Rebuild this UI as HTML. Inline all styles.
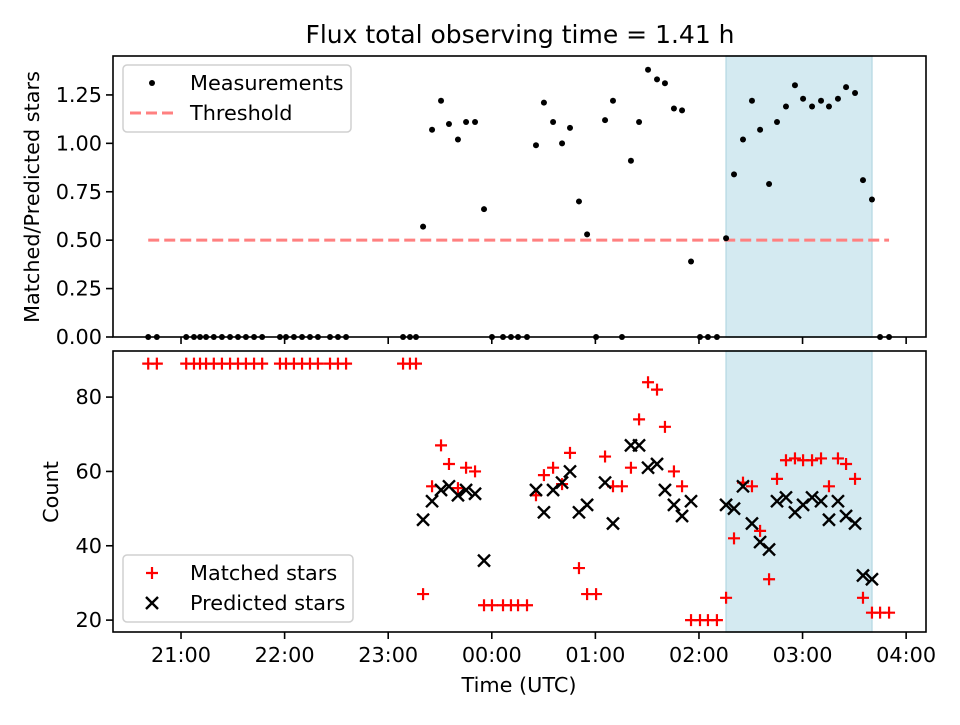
<!DOCTYPE html>
<html><head><meta charset="utf-8"><style>
body{margin:0;background:#fff}
svg text{font-family:"DejaVu Sans","Liberation Sans",sans-serif;fill:#000}
</style></head><body>
<svg id="chart" width="960" height="720" xmlns="http://www.w3.org/2000/svg"></svg>
<script>
// minutes since 20:00 UTC
const times=[41,46,63,67.5,71,74.5,79,83.7,88.4,93,97.6,102.3,107,117.3,120.8,125.4,130.1,134.7,139.3,146.3,150.9,155.6,188.6,192.6,196.1,
200.2,205.4,210.6,215.2,220.4,225.1,230.3,235.5,240.1,246.5,251.1,255.2,260.4,265.6,270.2,275.5,280.7,285.3,290.5,295.2,300.4,305.6,310.2,315.4,320.6,325.3,330.5,335.7,340.3,345.5,350.2,355.4,360.6,365.2,370.4,
375.7,380.3,385.5,390.7,395.4,400.6,405.2,410.4,415.6,420.3,425.5,430.7,435.3,440.5,445.2,450.4,455,460.2,464.9,470.1];
const ratio=[0,0,0,0,0,0,0,0,0,0,0,0,0,0,0,0,0,0,0,0,0,0,0,0,0,
0.57,1.07,1.22,1.10,1.02,1.11,1.11,0.66,0,0,0,0,0,0.99,1.21,1.11,1.0,1.08,0.70,0.53,0,1.12,1.22,0,0.91,1.11,1.38,1.33,1.31,1.18,1.17,0.39,0,0,0,
0.51,0.84,1.02,1.22,1.07,0.79,1.11,1.19,1.30,1.23,1.19,1.22,1.19,1.23,1.29,1.26,0.81,0.71,0,0];
const matched=[89,89,89,89,89,89,89,89,89,89,89,89,89,89,89,89,89,89,89,89,89,89,89,89,89,
27,56,67,62,55.5,61,60,24,24,24,24,24,24,53.6,59,61,56.6,65,34,27,27,64,56,56,61,74,84,82,72,60,56,20,20,20,20,
26,42,57,56,44,31,58,63,63.5,63,63,63.5,56,63.5,62,58,26,22,22,22];
const predicted=[null,null,null,null,null,null,null,null,null,null,null,null,null,null,null,null,null,null,null,null,null,null,null,null,null,
47,52,55,56,53.6,55,54,36,null,null,null,null,null,55,49,55,57,60,49,51,null,57,46,null,67,67,61,62,55,51,48,52,null,null,null,
51,50,56,46,41,39,52,53,49,51,53,52,47,52,48,46,32,31,null,null];
const xTickLabels=["21:00","22:00","23:00","00:00","01:00","02:00","03:00","04:00"];
const xTickVals=[60,120,180,240,300,360,420,480];
const topTicks=[0,0.25,0.5,0.75,1.0,1.25];
const botTicks=[20,40,60,80];
const spanStart=375.7, spanEnd=460.2, threshold=0.5, thrStart=41, thrEnd=470.1;

const NS="http://www.w3.org/2000/svg";
const svg=document.getElementById('chart');
function mk(tag,attrs,parent){const e=document.createElementNS(NS,tag);for(const k in attrs)e.setAttribute(k,attrs[k]);(parent||svg).appendChild(e);return e;}
const L=113,R=926;
const X=m=>L+(m-20.6)/(491.5-20.6)*(R-L);
const T={top:56,bot:337,min:0,max:1.451};
const B={top:351,bot:632,min:16.8,max:92.4};
const Yt=v=>T.bot-(v-T.min)/(T.max-T.min)*(T.bot-T.top);
const Yb=v=>B.bot-(v-B.min)/(B.max-B.min)*(B.bot-B.top);
const FS=20.8;

let t=mk('text',{x:520,y:43,'text-anchor':'middle','font-size':25});t.textContent="Flux total observing time = 1.41 h";



function panel(ax,Y,ticks,fmt,name){
  const g=mk('g',{});
  
  
  const sp=mk('rect',{x:X(spanStart),y:ax.top,width:X(spanEnd)-X(spanStart),height:ax.bot-ax.top,fill:'#d4eaf1',stroke:'#bcdce6','stroke-width':1.5},g);
  
  
  ticks.forEach(v=>{
    mk('line',{x1:L-7,x2:L,y1:Y(v),y2:Y(v),stroke:'#000','stroke-width':1.6},g);
    const tx=mk('text',{x:L-11,y:Y(v)+7,'text-anchor':'end','font-size':FS},g);tx.textContent=fmt(v);
    
    
  });
  xTickVals.forEach(v=>mk('line',{x1:X(v),x2:X(v),y1:ax.bot,y2:ax.bot+7,stroke:'#000','stroke-width':1.6},g));
  return g;
}
const gt=panel(T,Yt,topTicks,v=>v.toFixed(2),'top-panel');
const gb=panel(B,Yb,botTicks,v=>String(v),'bottom-panel');
xTickVals.forEach((v,i)=>{const tx=mk('text',{x:X(v),y:662,'text-anchor':'middle','font-size':FS});tx.textContent=xTickLabels[i];
  
  });

const th=mk('line',{x1:X(thrStart),x2:X(thrEnd),y1:Yt(threshold),y2:Yt(threshold),stroke:'#ff8080','stroke-width':3,'stroke-dasharray':'11,5'},gt);


times.forEach((m,i)=>{const c=mk('circle',{cx:X(m),cy:Yt(ratio[i]),r:3,fill:'#000'},gt);
  
  });
function plus(x,y,col,p){return mk('path',{d:`M${x-6},${y}H${x+6}M${x},${y-6}V${y+6}`,stroke:col,'stroke-width':2.2,fill:'none'},p);}
function cross(x,y,col,p){return mk('path',{d:`M${x-6},${y-6}L${x+6},${y+6}M${x-6},${y+6}L${x+6},${y-6}`,stroke:col,'stroke-width':2.4,fill:'none'},p);}
times.forEach((m,i)=>{const p=plus(X(m),Yb(matched[i]),'#ff0000',gb);
  
  });
times.forEach((m,i)=>{if(predicted[i]===null)return;const p=cross(X(m),Yb(predicted[i]),'#000',gb);
  
  });

[T,B].forEach(ax=>{const f=mk('rect',{x:L,y:ax.top,width:R-L,height:ax.bot-ax.top,fill:'none',stroke:'#000','stroke-width':1.6});
  
  });

let yl=mk('text',{x:0,y:0,'text-anchor':'middle','font-size':FS,transform:'translate(39,197) rotate(-90)'});yl.textContent="Matched/Predicted stars";


let yl2=mk('text',{x:0,y:0,'text-anchor':'middle','font-size':FS,transform:'translate(58,492) rotate(-90)'});yl2.textContent="Count";


let xl=mk('text',{x:519,y:692,'text-anchor':'middle','font-size':FS});xl.textContent="Time (UTC)";



function legend(x,y,w,h,name){const g=mk('g',{});
  mk('rect',{x:x,y:y,width:w,height:h,rx:4,fill:'#fff','fill-opacity':0.8,stroke:'#d0d0d0','stroke-width':1.5},g);return g;}
const lg1=legend(123,65,228,67,'top-legend');
mk('circle',{cx:152,cy:83,r:3,fill:'#000'},lg1);
let a=mk('text',{x:190,y:90,'font-size':FS},lg1);a.textContent="Measurements";


mk('line',{x1:130,x2:174,y1:113,y2:113,stroke:'#ff8080','stroke-width':3,'stroke-dasharray':'11,5'},lg1);
a=mk('text',{x:190,y:120,'font-size':FS},lg1);a.textContent="Threshold";


const lg2=legend(123,555,230,67,'bottom-legend');
plus(152,573,'#ff0000',lg2);
a=mk('text',{x:190,y:580,'font-size':FS},lg2);a.textContent="Matched stars";


cross(152,603,'#000',lg2);
a=mk('text',{x:190,y:610,'font-size':FS},lg2);a.textContent="Predicted stars";


</script>
</body></html>
